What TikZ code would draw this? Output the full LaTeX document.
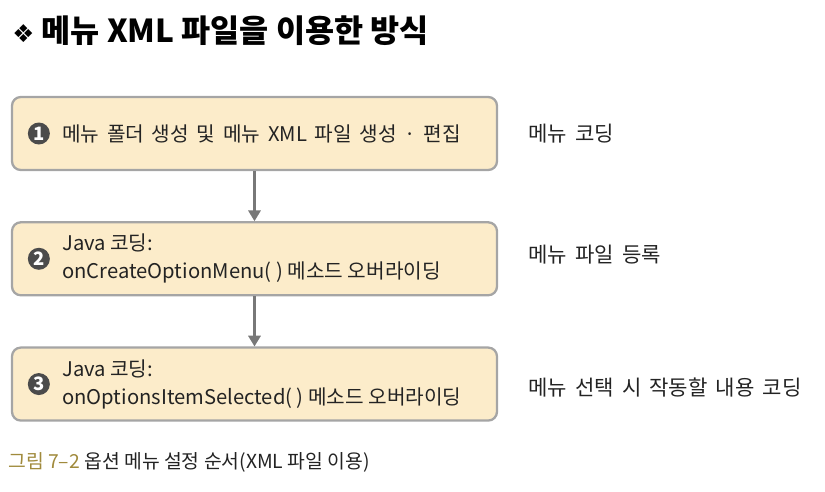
\documentclass[tikz,border=0pt]{standalone}
\usepackage{fontspec}
\setmainfont{Noto Sans CJK KR}
\newfontfamily\widefont{Noto Sans CJK KR}[WordSpace=1.7]
\newfontfamily\symfont{DejaVu Sans}
\usetikzlibrary{positioning, arrows.meta, calc}
\definecolor{boxFill}{RGB}{252, 236, 202}
\definecolor{boxLine}{RGB}{165, 165, 165}
\definecolor{arrowGray}{RGB}{120, 120, 120}
\definecolor{numGray}{RGB}{75, 75, 75}
\definecolor{captionOlive}{RGB}{160, 138, 60}
\definecolor{textGray}{RGB}{35, 35, 35}

\begin{document}
\begin{tikzpicture}[>=Triangle, node distance=1.0cm,
    stepbox/.style={draw=boxLine, fill=boxFill, line width=1.3pt, rounded corners=5pt, minimum width=9.7cm, minimum height=1.46cm},
    steptext/.style={anchor=west, align=left, inner sep=0pt, text=textGray, font=\fontsize{11.5}{16}\selectfont},
    stepnum/.style={circle, fill=numGray, text=white, inner sep=0pt, minimum size=0.44cm, font=\fontsize{10.5}{10}\selectfont\bfseries},
    sidetext/.style={anchor=west, inner sep=0pt, text=textGray, font=\widefont\fontsize{12}{14}\selectfont}]
    \useasboundingbox (0,0) rectangle (16.5,-9.84);

    % title
    \node[anchor=west, inner sep=0pt, font=\fontsize{18}{20}\selectfont\bfseries] (title) at (0.24,-0.62) {{\symfont\fontsize{14}{14}\selectfont ❖} 메뉴 XML 파일을 이용한 방식};

    % steps
    \node[stepbox] (box1) at (5.09,-2.67) {};
    \node[stepbox, below=of box1] (box2) {};
    \node[stepbox, below=of box2] (box3) {};

    \node[stepnum] (num1) at ($(box1.west)+(0.56,0)$) {1};
    \node[stepnum] (num2) at ($(box2.west)+(0.56,0)$) {2};
    \node[stepnum] (num3) at ($(box3.west)+(0.56,0)$) {3};

    \node[steptext, font=\widefont\fontsize{11.5}{16}\selectfont] (text1) at ($(box1.west)+(1.02,0)$) {메뉴 폴더 생성 및 메뉴 XML 파일 생성 · 편집};
    \node[steptext] (text2) at ($(box2.west)+(1.02,0)$) {Java 코딩:\\onCreateOptionMenu( ) 메소드 오버라이딩};
    \node[steptext] (text3) at ($(box3.west)+(1.02,0)$) {Java 코딩:\\onOptionsItemSelected( ) 메소드 오버라이딩};

    % what each step codes
    \node[sidetext] (side1) at ($(box1.east)+(0.6,0)$) {메뉴 코딩};
    \node[sidetext] (side2) at ($(box2.east)+(0.6,0.08)$) {메뉴 파일 등록};
    \node[sidetext] (side3) at ($(box3.east)+(0.6,-0.06)$) {메뉴 선택 시 작동할 내용 코딩};

    \draw[->, line width=1.2pt, color=arrowGray] (box1) -- (box2);
    \draw[->, line width=1.2pt, color=arrowGray] (box2) -- (box3);

    % caption
    \node[anchor=west, inner sep=0pt, font=\fontsize{11}{12}\selectfont] (caption) at (0.16,-9.24) {\textcolor{captionOlive}{그림 7–2} \textcolor{textGray}{옵션 메뉴 설정 순서(XML 파일 이용)}};
\end{tikzpicture}
\end{document}
